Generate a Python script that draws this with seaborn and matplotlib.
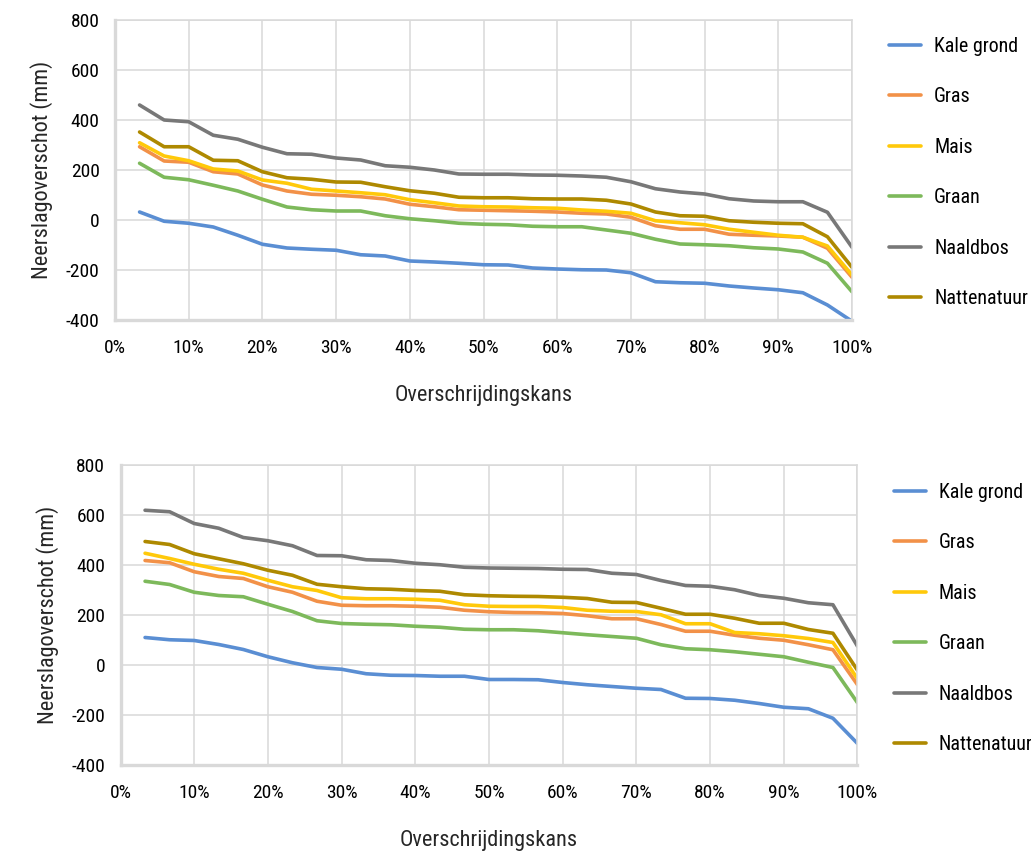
import seaborn as sns
import pandas as pd
import matplotlib.pyplot as plt
import matplotlib.ticker as mtick
import numpy as np

# x: exceedance probability, 30 ranked years
kans = [i / 30 for i in range(1, 31)]
series = ["Kale grond", "Gras", "Mais", "Graan", "Naaldbos", "Nattenatuur"]
kleuren = ["#5a8ed3", "#f29148", "#ffc90a", "#7db95b", "#787878", "#ae8900"]

# upper panel
boven_kale = [32, -5, -13, -28, -61, -97, -112, -117, -121, -139, -144, -164, -168, -173, -179,
              -180, -192, -196, -199, -200, -211, -247, -251, -253, -264, -272, -279, -291, -340, -405]
boven_gras = [293, 236, 231, 193, 184, 140, 116, 103, 99, 93, 84, 63, 53, 41, 39,
              37, 35, 32, 27, 24, 11, -23, -37, -37, -57, -61, -64, -69, -113, -229]
boven_mais = [309, 256, 237, 204, 196, 160, 147, 123, 116, 109, 101, 81, 69, 56, 53,
              52, 49, 47, 40, 35, 27, -3, -11, -19, -37, -49, -61, -69, -104, -220]
boven_graan = [227, 171, 161, 139, 116, 83, 52, 41, 36, 36, 17, 5, -3, -13, -17,
               -19, -25, -27, -27, -40, -53, -77, -96, -99, -103, -111, -116, -128, -173, -287]
boven_naald = [460, 400, 393, 339, 323, 291, 265, 263, 248, 240, 217, 211, 200, 184, 183,
               183, 180, 179, 176, 171, 153, 125, 112, 104, 85, 76, 73, 73, 31, -109]
boven_nat = [352, 293, 293, 239, 237, 193, 169, 163, 152, 151, 133, 117, 107, 91, 89,
             89, 85, 84, 84, 79, 64, 32, 17, 15, -3, -9, -13, -15, -67, -189]

# lower panel
onder_kale = [110, 101, 98, 82, 62, 33, 9, -10, -17, -35, -41, -42, -45, -45, -58,
              -58, -59, -70, -79, -86, -93, -98, -133, -134, -141, -154, -169, -175, -213, -314]
onder_gras = [418, 409, 373, 354, 346, 313, 291, 255, 239, 237, 237, 235, 231, 219, 213,
              210, 209, 206, 197, 185, 185, 162, 135, 135, 119, 107, 99, 81, 61, -79]
onder_mais = [447, 426, 403, 383, 367, 339, 313, 298, 269, 265, 265, 263, 259, 241, 235,
              234, 234, 230, 219, 215, 214, 201, 165, 165, 130, 125, 117, 106, 90, -55]
onder_graan = [335, 322, 291, 278, 273, 243, 214, 177, 166, 163, 161, 155, 151, 143, 141,
               141, 137, 129, 121, 114, 107, 81, 65, 61, 53, 43, 33, 11, -10, -151]
onder_naald = [619, 613, 566, 547, 510, 497, 477, 438, 437, 421, 418, 407, 401, 391, 388,
               387, 386, 383, 382, 367, 362, 338, 318, 315, 301, 278, 267, 249, 241, 75]
onder_nat = [494, 482, 445, 425, 405, 379, 359, 323, 313, 305, 303, 298, 295, 281, 277,
             275, 274, 271, 266, 251, 250, 227, 203, 203, 187, 167, 167, 142, 127, -21]


def lang(waarden):
    rows = []
    for naam, vals in zip(series, waarden):
        for x, y in zip(kans, vals):
            rows.append({"kans": x, "waarde": y, "gewas": naam})
    return pd.DataFrame(rows)


df_boven = lang([boven_kale, boven_gras, boven_mais, boven_graan, boven_naald, boven_nat])
df_onder = lang([onder_kale, onder_gras, onder_mais, onder_graan, onder_naald, onder_nat])

sns.set_style("white")
plt.rcParams["font.family"] = ["Roboto Condensed", "Liberation Sans Narrow", "Roboto", "DejaVu Sans"]
plt.rcParams["text.color"] = "#000000"
plt.rcParams["axes.unicode_minus"] = False

fig = plt.figure(figsize=(10.31, 8.52), dpi=100)
ax1 = fig.add_axes([115 / 1031, 1 - 320 / 852, 737 / 1031, 300 / 852])
ax2 = fig.add_axes([120.5 / 1031, 1 - 765 / 852, 737 / 1031, 300 / 852])

legend_pos = [(889, 37), (894, 483)]

for ax, df, (lx, ly) in zip([ax1, ax2], [df_boven, df_onder], legend_pos):
    sns.lineplot(data=df, x="kans", y="waarde", hue="gewas", hue_order=series,
                 palette=kleuren, linewidth=2.6, estimator=None, sort=False, ax=ax)
    ax.set_xlim(0, 1)
    ax.set_ylim(-400, 800)
    ax.set_xticks(np.arange(0, 1.01, 0.1))
    ax.set_yticks(range(-400, 801, 200))
    ax.xaxis.set_major_formatter(mtick.PercentFormatter(1.0, decimals=0))
    ax.grid(True, color="#d9d9d9", linewidth=1.1)
    ax.set_axisbelow(True)
    for side in ["top", "right"]:
        ax.spines[side].set_color("#d9d9d9")
        ax.spines[side].set_linewidth(1.1)
    for side in ["left", "bottom"]:
        ax.spines[side].set_color("#d9d9d9")
        ax.spines[side].set_linewidth(2.4)
    ax.tick_params(axis="both", length=0, labelsize=14, colors="#000000")
    ax.tick_params(axis="x", pad=14)
    ax.tick_params(axis="y", pad=11)
    ax.set_xlabel("Overschrijdingskans", fontsize=16, labelpad=20)
    ax.set_ylabel("Neerslagoverschot (mm)", fontsize=16, labelpad=9)
    ax.legend(loc="upper left", bbox_to_anchor=(lx / 1031, 1 - ly / 852),
              bbox_transform=fig.transFigure, frameon=False, fontsize=14.4,
              borderpad=0, borderaxespad=0, labelspacing=1.57,
              handlelength=1.6, handletextpad=0.65, title=None)

fig.savefig("out.png", dpi=100)
